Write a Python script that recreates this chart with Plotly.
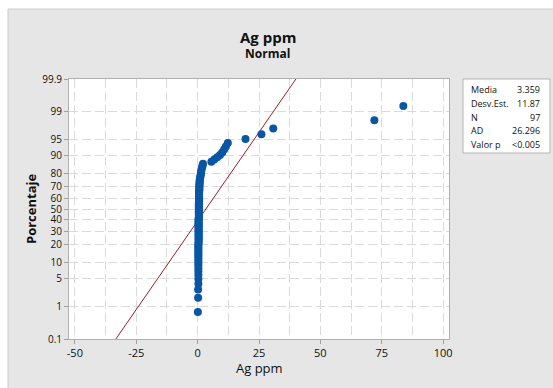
import plotly.graph_objects as go
from statistics import NormalDist

# ---------------- data ----------------
ag_ppm = [
    0.1, 0.2, 0.2, 0.3, 0.3, 0.3, 0.3, 0.3, 0.3, 0.3,
    0.3, 0.3, 0.3, 0.3, 0.3, 0.3, 0.3, 0.3, 0.3, 0.3,
    0.4, 0.4, 0.4, 0.4, 0.4, 0.4, 0.4, 0.4, 0.4, 0.4,
    0.4, 0.4, 0.4, 0.4, 0.4, 0.4, 0.4, 0.4, 0.4, 0.4,
    0.5, 0.5, 0.5, 0.5, 0.5, 0.5, 0.5, 0.5, 0.5, 0.5,
    0.5, 0.5, 0.5, 0.5, 0.5, 0.6, 0.6, 0.6, 0.6, 0.6,
    0.6, 0.6, 0.6, 0.6, 0.6, 0.7, 0.7, 0.7, 0.7, 0.7,
    0.8, 0.8, 0.8, 0.9, 1.0, 1.1, 1.2, 1.3, 1.4, 1.5,
    1.6, 1.8, 2.0, 2.2, 5.6, 6.8, 8.0, 9.1, 10.0, 10.8,
    11.5, 12.3, 19.5, 26.0, 30.8, 72.0, 83.8,
]
mean_val = 3.359
std_val = 11.87
n_val = 97
ad_val = 26.296
p_label = "<0.005"

stats_labels = ["Media", "Desv.Est.", "N", "AD", "Valor p"]
stats_values = [f"{mean_val:.3f}", f"{std_val:.2f}", f"{n_val}", f"{ad_val:.3f}", p_label]

y_tick_pct = [0.1, 1, 5, 10, 20, 30, 40, 50, 60, 70, 80, 90, 95, 99, 99.9]
y_tick_text = ["0.1", "1", "5", "10", "20", "30", "40", "50", "60", "70", "80", "90", "95", "99", "99.9"]
x_tick_vals = [-50, -25, 0, 25, 50, 75, 100]
x_tick_text = ["-50", "-25", "0", "25", "50", "75", "100"]

# ---------------- computations ----------------
nd = NormalDist()
vals = sorted(ag_ppm)
n = len(vals)
z_pts = [nd.inv_cdf((i + 1 - 0.3) / (n + 0.4)) for i in range(n)]  # Benard median ranks
z_lo, z_hi = nd.inv_cdf(0.001), nd.inv_cdf(0.999)
line_x = [mean_val + std_val * z_lo, mean_val + std_val * z_hi]
line_y = [z_lo, z_hi]
y_tick_z = [nd.inv_cdf(p / 100) for p in y_tick_pct]

W, H = 553, 388
L, R, T, B = 69, 449, 79, 339
def px(x):
    return (x - L) / (R - L)
def py(y):
    return (B - y) / (B - T)

FONT = "Open Sans"
GRID = "#dadada"
DASH = "9px,4px"

fig = go.Figure()
fig.add_trace(go.Scatter(x=line_x, y=line_y, mode="lines",
                         line=dict(color="#9e1f1f", width=1), hoverinfo="skip"))
fig.add_trace(go.Scatter(x=vals, y=z_pts, mode="markers",
                         marker=dict(color="#0a56a5", size=8, line=dict(width=0))))

shapes = [
    dict(type="rect", xref="paper", yref="paper", x0=px(8), x1=px(560), y0=py(395), y1=py(9),
         fillcolor="#e6e6e6", line=dict(color="#cccccc", width=1), layer="below"),
    dict(type="rect", xref="paper", yref="paper", x0=0, x1=1, y0=0, y1=1,
         fillcolor="white", line=dict(width=0), layer="below"),
    dict(type="rect", xref="paper", yref="paper", x0=px(463), x1=px(550), y0=py(153), y1=py(79),
         fillcolor="white", line=dict(color="#b4b4b4", width=1)),
]

annotations = [
    dict(text="<b>Ag ppm</b>", x=px(268), y=py(37), xref="paper", yref="paper", showarrow=False,
         font=dict(family=FONT, size=15, color="#111"), xanchor="center", yanchor="middle"),
    dict(text="<b>Normal</b>", x=px(267), y=py(54), xref="paper", yref="paper", showarrow=False,
         font=dict(family=FONT, size=12, color="#111"), xanchor="center", yanchor="middle"),
    dict(text="<b>Porcentaje</b>", x=px(31), y=py(209), xref="paper", yref="paper", showarrow=False,
         textangle=-90, font=dict(family=FONT, size=13, color="#111"), xanchor="center", yanchor="middle"),
    dict(text="Ag ppm", x=px(259), y=py(368), xref="paper", yref="paper", showarrow=False,
         font=dict(family=FONT, size=13, color="#111"), xanchor="center", yanchor="middle"),
]
row_y = [90, 103.5, 117, 130.5, 144]
for lab, val, ry in zip(stats_labels, stats_values, row_y):
    annotations.append(dict(text=lab, x=px(469), y=py(ry), xref="paper", yref="paper", showarrow=False,
                            font=dict(family=FONT, size=9, color="#111"), xanchor="left", yanchor="middle"))
    annotations.append(dict(text=val, x=px(542), y=py(ry), xref="paper", yref="paper", showarrow=False,
                            font=dict(family=FONT, size=9, color="#111"), xanchor="right", yanchor="middle"))

fig.update_layout(
    width=W, height=H,
    margin=dict(l=L, r=W - R, t=T, b=H - B, pad=0),
    paper_bgcolor="white", plot_bgcolor="white",
    showlegend=False,
    shapes=shapes, annotations=annotations,
    font=dict(family=FONT, size=11, color="#222"),
    xaxis=dict(range=[-52.4, 102.4], tickvals=x_tick_vals, ticktext=x_tick_text,
               ticks="outside", ticklen=4, tickcolor="#a0a0a0",
               showgrid=True, gridcolor=GRID, griddash=DASH, gridwidth=1,
               minor=dict(tick0=0, dtick=12.5, showgrid=True, gridcolor=GRID, griddash=DASH),
               showline=True, linecolor="#b0b0b0", linewidth=1, mirror=True, zeroline=False,
               tickfont=dict(family=FONT, size=11, color="#111")),
    yaxis=dict(range=[z_lo, z_hi], tickvals=y_tick_z, ticktext=y_tick_text,
               ticks="outside", ticklen=4, tickcolor="#a0a0a0",
               showgrid=True, gridcolor=GRID, griddash=DASH, gridwidth=1,
               showline=True, linecolor="#b0b0b0", linewidth=1, mirror=True, zeroline=False,
               tickfont=dict(family=FONT, size=10, color="#111")),
)

fig.write_html("out.html")
